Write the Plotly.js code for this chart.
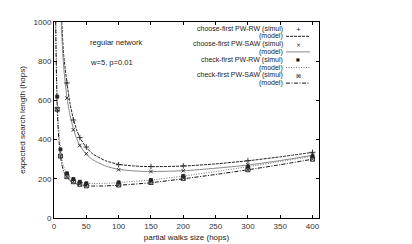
<!DOCTYPE html>
<html>
<head>
<meta charset="utf-8">
<script src="https://cdn.plot.ly/plotly-3.0.1.min.js"></script>
<style>
  html, body { margin: 0; padding: 0; background: #fff; }
  #chart { width: 412px; height: 244px; }
</style>
</head>
<body>
<div id="chart"></div>
<script>
// Expected search length vs. partial walk size, regular network (w=5, p=0.01)

// simulation points
const simChooseX = [20, 30, 40, 50, 100, 150, 200, 300, 400];
const simChooseRW = [689, 500, 410, 362, 272, 263, 266, 292, 335];
const simChooseSAW = [612, 450, 370, 328, 246, 237, 241, 272, 322];

const simCheckX = [5, 10, 20, 30, 40, 50, 100, 150, 200, 300, 400];
const simCheckRW = [619, 350, 228, 199, 185, 177, 182, 194, 215, 262, 315];
const simCheckSAW = [555, 316, 211, 185, 172, 164, 168, 181, 202, 246, 300];

// analytical model curves
const modelX = [1, 2, 3, 4, 5, 6, 8, 10, 12, 15, 20, 25, 30, 35, 40, 50, 60, 80, 100, 125, 150, 200, 250, 300, 350, 400];
const modelChooseRW = [9000, 5000, 3400, 2600, 2150, 1800, 1450, 1200, 1000, 830, 690, 580, 505, 450, 410, 360, 327, 292, 274, 265, 262, 265, 276, 292, 312, 335];
const modelChooseSAW = [8500, 4700, 3200, 2450, 2000, 1700, 1350, 1130, 940, 770, 615, 520, 455, 405, 370, 325, 297, 265, 248, 240, 237, 241, 254, 270, 293, 320];
const modelCheckRW = [3000, 1350, 960, 760, 625, 540, 430, 355, 305, 262, 226, 206, 195, 188, 184, 178, 176, 177, 181, 187, 194, 214, 237, 262, 288, 315];
const modelCheckSAW = [2800, 1250, 880, 690, 560, 480, 380, 318, 275, 238, 208, 190, 180, 174, 170, 165, 163, 164, 167, 173, 180, 200, 222, 246, 272, 300];

const legendNames = [
  'choose-first PW-RW (simul)', '(model)',
  'choose-first PW-SAW (simul)', '(model)',
  'check-first PW-RW (simul)', '(model)',
  'check-first PW-SAW (simul)', '(model)'
];

const W = 412, H = 244;
const M = { l: 54, r: 93, t: 22, b: 26 };
const plotW = W - M.l - M.r, plotH = H - M.t - M.b;
const px = x => (x - M.l) / plotW;
const py = y => (H - M.b - y) / plotH;

const FONT = 'Liberation Sans, Arial, sans-serif';

const styles = [
  { sym: 'cross-thin-open', msize: 4, line: { color: '#222', width: 1, dash: '3px,1px' } },
  { sym: 'x-thin-open', msize: 3.5, line: { color: '#888', width: 1, dash: 'solid' } },
  { sym: 'square', msize: 3, line: { color: '#777', width: 1, dash: '1px,1.5px' } },
  { sym: 'square-x-open', msize: 4, line: { color: '#111', width: 1, dash: '4px,1.5px,1px,1.5px' } }
];

const simSets = [
  [simChooseX, simChooseRW], [simChooseX, simChooseSAW],
  [simCheckX, simCheckRW], [simCheckX, simCheckSAW]
];
const modelSets = [modelChooseRW, modelChooseSAW, modelCheckRW, modelCheckSAW];

const traces = [];
modelSets.forEach((ys, i) => {
  traces.push({
    x: modelX, y: ys, type: 'scatter', mode: 'lines',
    line: Object.assign({ shape: 'spline', smoothing: 0.6 }, styles[i].line),
    hoverinfo: 'skip', showlegend: false, cliponaxis: true
  });
});
simSets.forEach(([xs, ys], i) => {
  traces.push({
    x: xs, y: ys, type: 'scatter', mode: 'markers',
    marker: { symbol: styles[i].sym, size: styles[i].msize, color: '#222',
              line: { color: '#222', width: 0.9 } },
    showlegend: false, cliponaxis: true
  });
});

// key, drawn top-right inside the frame with the sample to the right of the text
const annotations = [];
const shapes = [];
const rowY = [28.5, 36.3, 44.1, 51.9, 59.7, 67.5, 75.3, 83.1];
const textRight = 284;
const sampleX0 = 286, sampleX1 = 310, sampleMid = 298;
legendNames.forEach((name, k) => {
  annotations.push({
    xref: 'paper', yref: 'paper', x: px(textRight), y: py(rowY[k]),
    xanchor: 'right', yanchor: 'middle', showarrow: false, borderpad: 0,
    text: name, font: { family: FONT, size: 7, color: '#222' }
  });
  const s = styles[Math.floor(k / 2)];
  if (k % 2 === 1) {
    shapes.push({
      type: 'line', xref: 'paper', yref: 'paper',
      x0: px(sampleX0), x1: px(sampleX1), y0: py(rowY[k]), y1: py(rowY[k]),
      line: s.line
    });
  }
});
const keyMarks = ['+', '×', '■', '⊠'];
const keySizes = [6, 6, 4, 6];
keyMarks.forEach((m, i) => {
  annotations.push({
    xref: 'paper', yref: 'paper', x: px(sampleMid), y: py(rowY[i * 2]),
    xanchor: 'center', yanchor: 'middle', showarrow: false, borderpad: 0,
    text: m, font: { family: 'DejaVu Sans, sans-serif', size: keySizes[i], color: '#111' }
  });
});

annotations.push({
  xref: 'paper', yref: 'paper', x: px(88), y: py(42), xanchor: 'left', yanchor: 'middle',
  showarrow: false, text: 'regular network', font: { family: FONT, size: 7.6, color: '#222' }
});
annotations.push({
  xref: 'paper', yref: 'paper', x: px(88), y: py(62), xanchor: 'left', yanchor: 'middle',
  showarrow: false, text: 'w=5, p=0.01', font: { family: FONT, size: 7.6, color: '#222' }
});

const axisCommon = {
  showline: true, linecolor: '#000', linewidth: 1, mirror: 'ticks',
  ticks: 'inside', ticklen: 3, tickcolor: '#000', tickwidth: 1,
  showgrid: false, zeroline: false,
  tickfont: { family: FONT, size: 8, color: '#333' }
};

const layout = {
  width: W, height: H,
  margin: M,
  paper_bgcolor: '#fff', plot_bgcolor: '#fff',
  showlegend: false,
  xaxis: Object.assign({}, axisCommon, {
    range: [0, 410], tickvals: [0, 50, 100, 150, 200, 250, 300, 350, 400],
    title: { text: 'partial walks size (hops)', font: { family: FONT, size: 8, color: '#222' }, standoff: 4 }
  }),
  yaxis: Object.assign({}, axisCommon, {
    range: [0, 1000], tickvals: [0, 200, 400, 600, 800, 1000],
    title: { text: 'expected search length (hops)', font: { family: FONT, size: 8, color: '#222' }, standoff: 6 }
  }),
  annotations: annotations,
  shapes: shapes
};

Plotly.newPlot('chart', traces, layout, { displayModeBar: false, staticPlot: true });
</script>
</body>
</html>
